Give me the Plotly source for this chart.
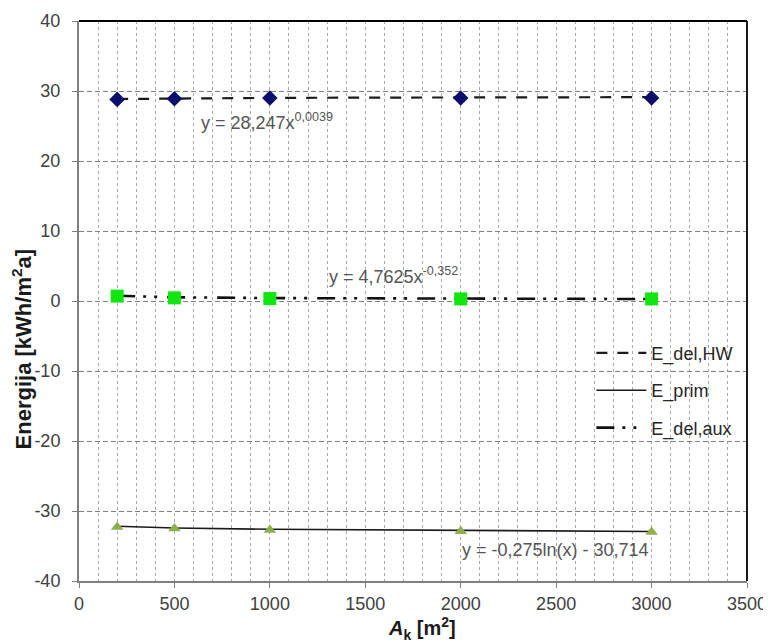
import plotly.graph_objects as go

# ---- data ----
area = [200, 500, 1000, 2000, 3000]
e_del_hw = [28.8, 28.9, 29.0, 29.0, 29.0]
e_del_aux = [0.7, 0.45, 0.35, 0.3, 0.3]
e_prim = [-32.3, -32.5, -32.7, -32.9, -33.0]
# trend lines at the same areas
trend_hw = [28.85, 28.95, 29.02, 29.08, 29.12]
trend_aux = [0.74, 0.53, 0.42, 0.33, 0.28]
trend_prim = [-32.17, -32.42, -32.61, -32.80, -32.92]

series_names = ["E_del,HW", "E_prim", "E_del,aux"]
eq_texts = ["y = 28,247x<sup>0,0039</sup>",
            "y = 4,7625x<sup>-0,352</sup>",
            "y = -0,275ln(x) - 30,714"]
x_ticks = [0, 500, 1000, 1500, 2000, 2500, 3000, 3500]
y_ticks = [-40, -30, -20, -10, 0, 10, 20, 30, 40]

FONT = "Liberation Sans"
fig = go.Figure()

# trend lines (in legend)
fig.add_trace(go.Scatter(x=area, y=trend_hw, mode="lines", name=series_names[0],
                         line=dict(color="#1a1a1a", width=2.2, dash="11px,10px"),
                         legendgroup="a"))
fig.add_trace(go.Scatter(x=area, y=trend_prim, mode="lines", name=series_names[1],
                         line=dict(color="#1a1a1a", width=1.6),
                         legendgroup="b"))
fig.add_trace(go.Scatter(x=area, y=trend_aux, mode="lines", name=series_names[2],
                         line=dict(color="#111111", width=2.6,
                                   dash="18px,8px,3px,8px,3px,10px"),
                         legendgroup="c"))

# markers
fig.add_trace(go.Scatter(x=area, y=e_del_hw, mode="markers", showlegend=False,
                         marker=dict(symbol="diamond", size=12, color="#0d0d6b")))
fig.add_trace(go.Scatter(x=area, y=e_del_aux, mode="markers", showlegend=False,
                         marker=dict(symbol="square", size=13, color="#11e611")))
fig.add_trace(go.Scatter(x=area, y=e_prim, mode="markers", showlegend=False,
                         marker=dict(symbol="triangle-up", size=11, color="#8fae4e")))

# equations
eq_pos = [(630, 25.6), (1300, 3.6), (1995, -35.6)]
for t, (ex, ey) in zip(eq_texts, eq_pos):
    fig.add_annotation(x=ex, y=ey, xref="x", yref="y", text=t, showarrow=False,
                       xanchor="left", yanchor="middle",
                       font=dict(family=FONT, size=18, color="#555555"))

# axis titles
fig.add_annotation(x=-0.085, y=0.414, xref="paper", yref="paper",
                   text="<b>Energija [kWh/m<sup>2</sup>a]</b>", showarrow=False,
                   textangle=-90, xanchor="center", yanchor="middle",
                   font=dict(family=FONT, size=22, color="#1a1a1a"))
fig.add_annotation(x=0.514, y=-0.085, xref="paper", yref="paper",
                   text="<b><i>A</i><sub>k</sub> [m<sup>2</sup>]</b>", showarrow=False,
                   xanchor="center", yanchor="middle",
                   font=dict(family=FONT, size=20, color="#1a1a1a"))

# top/right border
fig.add_shape(type="line", xref="paper", yref="paper", x0=0, x1=1, y0=1, y1=1,
              line=dict(color="#000000", width=1.8))
fig.add_shape(type="line", xref="paper", yref="paper", x0=1, x1=1, y0=0, y1=1,
              line=dict(color="#000000", width=1.8))

fig.update_layout(
    width=763, height=635,
    margin=dict(l=71, r=24, t=13, b=62, autoexpand=False),
    paper_bgcolor="white", plot_bgcolor="white",
    font=dict(family=FONT, color="#404040"),
    showlegend=True,
    legend=dict(x=0.767, y=0.44, xanchor="left", yanchor="top",
                bgcolor="rgba(0,0,0,0)", tracegroupgap=11,
                font=dict(family=FONT, size=18, color="#262626"),
                itemwidth=50),
    xaxis=dict(range=[0, 3500], tickvals=x_ticks, ticktext=[str(v) for v in x_ticks],
               automargin=False,
               showline=True, linecolor="#7f7f7f", linewidth=2,
               ticks="outside", ticklen=5, tickcolor="#7f7f7f",
               showgrid=True, gridcolor="#a8a8a8", griddash="3px,3px", gridwidth=1,
               minor=dict(dtick=100, showgrid=True, gridcolor="#a8a8a8",
                          griddash="3px,3px", gridwidth=1),
               zeroline=False,
               tickfont=dict(family=FONT, size=18, color="#404040")),
    yaxis=dict(range=[-40, 40], tickvals=y_ticks, ticktext=[str(v) for v in y_ticks],
               automargin=False,
               showline=True, linecolor="#7f7f7f", linewidth=2,
               ticks="outside", ticklen=5, tickcolor="#7f7f7f",
               showgrid=True, gridcolor="#7f7f7f", griddash="5px,3px", gridwidth=1,
               zeroline=False, ticklabelstandoff=8,
               tickfont=dict(family=FONT, size=18, color="#404040")),
)

fig.write_html("out.html")
